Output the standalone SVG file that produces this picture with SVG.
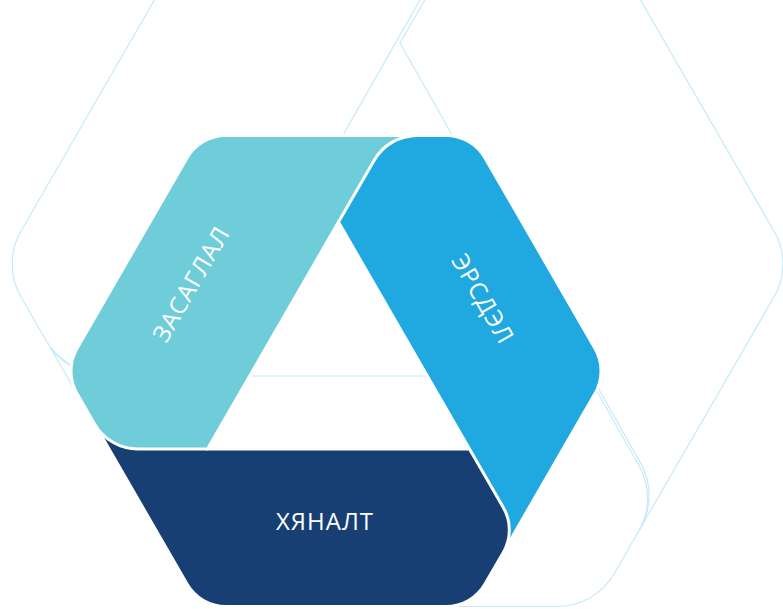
<svg xmlns="http://www.w3.org/2000/svg" width="783" height="609" viewBox="0 0 783 609">
<defs>
<style>
.outline{fill:none;stroke:#c6eafa;stroke-width:1.2;stroke-linejoin:round}
.band{stroke:#ffffff;stroke-width:3;stroke-linejoin:round}
.teal{fill:#6ecdd9}
.blue{fill:#20a9e0}
.navy{fill:#173f74}
.label{font-family:"Open Sans","Noto Sans","DejaVu Sans",sans-serif;font-size:24px;font-weight:500;fill:#ffffff;letter-spacing:1px;text-anchor:middle}
</style>
<clipPath id="topClip"><rect x="300" y="100" width="220" height="125"/></clipPath>
</defs>
<rect width="783" height="609" fill="#ffffff"/>
<g id="background-outline">
<path class="outline" d="M 464.7,-78.5 L 207.4,373 L 103,373 A 66 66 0 0 1 45.84,340 L 21.05,297 A 66 66 0 0 1 21.05,231 L 199.75,-78.5 Z"/>
<path class="outline" d="M 470,-78.5 L 595.25,-78.5 L 773.95,231 A 66 66 0 0 1 773.95,297 L 638.55,531.4 A 66 66 0 0 0 638.8,465.2 L 400,43 Z"/>
<path class="outline" d="M 50.5,348 A 70 70 0 0 0 103,376 L 591.4,376 L 640.3,462.6 A 66 66 0 0 1 640.05,528.8 L 614.3,573.5 A 66 66 0 0 1 557.15,606.5 L 237.85,606.5 A 66 66 0 0 1 180.7,573.5 Z"/>
</g>
<g id="ersdel">
<path id="blueShape" class="band blue" d="M 374.07,160.44 A 50 50 0 0 1 417.37,135.44 L 446,135.44 A 45 45 0 0 1 485,157.94 L 595,348.5 A 45 45 0 0 1 595,393.5 L 500,558 L 469.5,449 L 338.5,222.1 Z"/>
<text class="label" transform="translate(483,299) rotate(60)" x="0" y="8.5">ЭРСДЭЛ</text>
</g>
<g id="hyanalt">
<path class="band navy" d="M 92.3,420 L 205,420 L 207.5,449 L 469.5,449 L 503.3,507.4 A 45 45 0 0 1 503.3,552.4 L 485,584.06 A 45 45 0 0 1 446,606.56 L 226,606.56 A 45 45 0 0 1 187,584.06 Z"/>
<text class="label" x="325" y="530">ХЯНАЛТ</text>
</g>
<g id="zasaglal">
<path class="band teal" d="M 226,135.44 L 425,135.44 L 338.5,222.1 L 207.5,449 L 137.9,449 A 50 50 0 0 1 94.57,424 L 77,393.5 A 45 45 0 0 1 77,348.5 L 187,157.94 A 45 45 0 0 1 226,135.44 Z"/>
<text class="label" transform="translate(191,284) rotate(-60)" x="0" y="8.5">ЗАСАГЛАЛ</text>
</g>
<g id="ersdel-front">
<use href="#blueShape" clip-path="url(#topClip)"/>
</g>
</svg>
